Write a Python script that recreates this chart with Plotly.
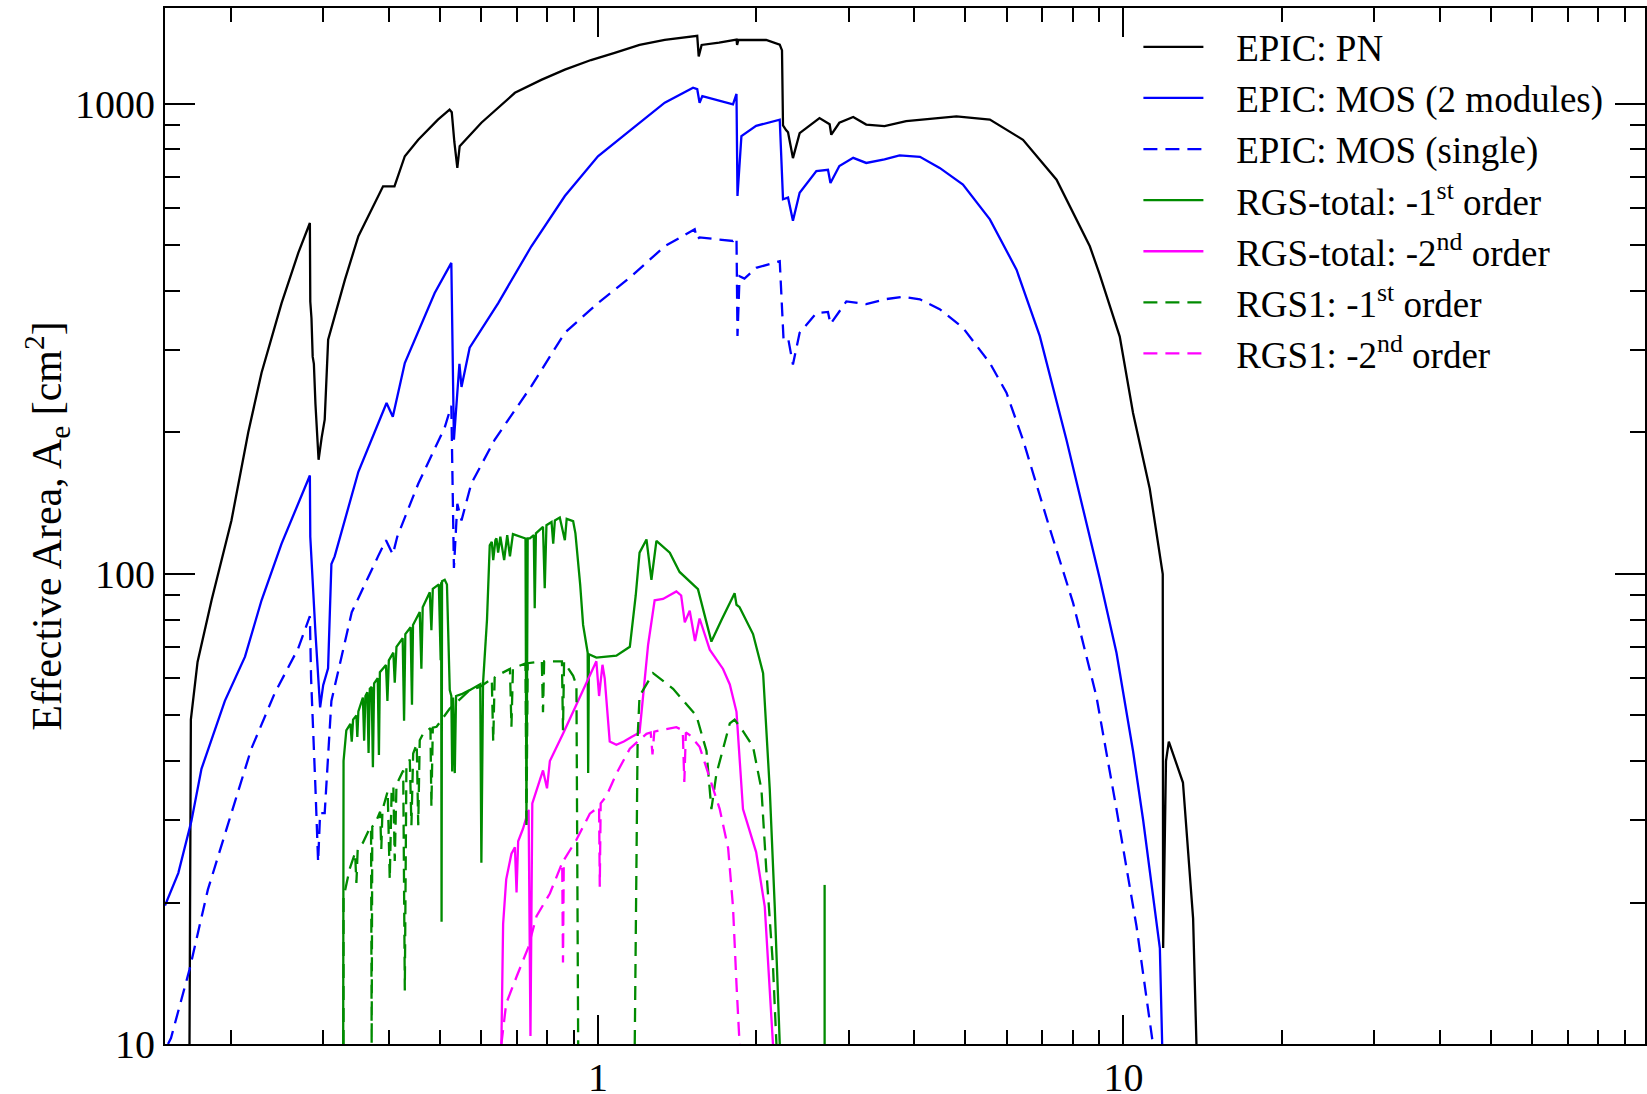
import numpy as np
import plotly.graph_objects as go

# ---- EPIC pn effective area (keV, cm^2)
pn_e = [0.167, 0.168, 0.173, 0.184, 0.2007, 0.216, 0.229, 0.25, 0.269, 0.283,
        0.2835, 0.285, 0.2865, 0.288, 0.29, 0.294, 0.298, 0.302, 0.3066, 0.33,
        0.35, 0.39, 0.41, 0.429, 0.455, 0.496, 0.522, 0.527, 0.533, 0.540,
        0.5456, 0.6, 0.695, 0.78, 0.865, 0.97, 1.076, 1.2, 1.34, 1.545,
        1.555, 1.575, 1.70, 1.835, 1.84, 1.85, 2.09, 2.218, 2.24, 2.25,
        2.28, 2.30, 2.35, 2.42, 2.64, 2.76, 2.78, 2.88, 3.06, 3.24,
        3.51, 3.86, 4.81, 5.57, 6.44, 7.46, 8.63, 9.01, 9.84, 10.43,
        11.22, 11.73, 11.88, 11.9, 12.05, 12.2, 12.98, 13.57, 13.77]
pn_a = [10, 49, 65, 88, 130, 200, 268, 377, 482, 558,
        380, 350, 290, 280, 230, 175, 195, 213, 315, 423,
        523, 668, 668, 774, 839, 926, 972, 960, 830, 731,
        813, 912, 1056, 1125, 1183, 1240, 1284, 1335, 1368, 1396,
        1262, 1335, 1350, 1371, 1335, 1368, 1368, 1337, 1300, 900,
        880, 870, 767, 867, 933, 905, 860, 912, 938, 904,
        897, 919, 941, 926, 839, 690, 498, 434, 320, 220,
        152, 111, 100, 16, 40, 44, 36, 18.5, 10]

# ---- EPIC MOS, both modules
mos2_e = [0.15, 0.159, 0.1684, 0.176, 0.195, 0.213, 0.229, 0.25, 0.283, 0.2835,
          0.29, 0.296, 0.300, 0.3065, 0.311, 0.3155, 0.35, 0.371, 0.396, 0.407,
          0.429, 0.489, 0.526, 0.532, 0.538, 0.545, 0.55, 0.57, 0.646, 0.747,
          0.865, 1.0, 1.158, 1.34, 1.517, 1.545, 1.561, 1.58, 1.807, 1.835,
          1.843, 1.875, 2.0, 2.218, 2.25, 2.3, 2.35, 2.42, 2.604, 2.74,
          2.77, 2.88, 3.06, 3.24, 3.51, 3.75, 4.10, 4.47, 4.95, 5.57,
          6.26, 6.93, 7.79, 8.63, 9.01, 9.7, 10.43, 10.9, 11.38, 11.73, 11.85]
mos2_a = [19.7, 23.1, 29.8, 38.5, 53.7, 66.7, 87.9, 116, 162, 120,
          75, 52, 58, 63, 105, 109, 165, 193, 231, 216,
          281, 396, 459, 193, 230, 280, 250, 303, 377, 498,
          637, 774, 883, 1006, 1083, 1075, 1006, 1039, 998, 1050,
          637, 854, 898, 926, 627, 632, 564, 647, 720, 724,
          679, 738, 768, 749, 762, 777, 772, 731, 674, 568,
          444, 321, 193, 120, 98, 68, 42, 30, 21, 16, 10]

# ---- EPIC MOS, single module
mos1_e = [0.152, 0.154, 0.167, 0.181, 0.2007, 0.219, 0.2427, 0.2688, 0.283, 0.2845,
          0.29, 0.2934, 0.296, 0.302, 0.311, 0.34, 0.3815, 0.395, 0.407, 0.415,
          0.455, 0.511, 0.526, 0.532, 0.54, 0.55, 0.574, 0.636, 0.747, 0.865,
          1.0, 1.158, 1.34, 1.528, 1.545, 1.56, 1.807, 1.835, 1.843, 1.86,
          1.9, 2.0, 2.218, 2.255, 2.3, 2.35, 2.42, 2.604, 2.74, 2.77,
          2.97, 3.24, 3.51, 3.81, 4.10, 4.47, 4.95, 5.57, 5.99, 6.44,
          7.24, 8.02, 8.88, 9.70, 10.59, 11.38]
mos1_a = [10, 10.3, 14.4, 21.3, 31, 42.5, 55.8, 69.4, 81.3, 60,
          35, 24.4, 31, 31, 53.7, 82.9, 109, 118, 110, 120,
          155.6, 205, 228, 103, 141, 130, 155.6, 193, 251, 326,
          377, 430, 498, 541, 515, 520, 511, 520, 321, 430,
          425, 448, 463, 316, 318, 279, 326, 359, 361, 340,
          380, 375, 384, 389, 384, 366, 334, 281, 243, 193,
          125, 86.8, 55, 31.6, 17.8, 10]

# ---- RGS (both units), first order
rgs_tot1_e = [0.3275, 0.328, 0.332, 0.338, 0.340, 0.342, 0.347, 0.3484, 0.350, 0.357,
              0.359, 0.361, 0.364, 0.366, 0.368, 0.371, 0.373, 0.375, 0.381, 0.383,
              0.3846, 0.395, 0.3975, 0.400, 0.408, 0.4105, 0.4136, 0.425, 0.4276, 0.430,
              0.440, 0.4427, 0.4447, 0.458, 0.4613, 0.464, 0.4786, 0.482, 0.485, 0.498,
              0.502, 0.503, 0.504, 0.505, 0.511, 0.516, 0.5224, 0.526, 0.528, 0.530,
              0.534, 0.537, 0.55, 0.57, 0.597, 0.600, 0.6044, 0.615, 0.6224, 0.628,
              0.632, 0.638, 0.641, 0.6457, 0.652, 0.663, 0.672, 0.68, 0.689, 0.728,
              0.731, 0.735, 0.742, 0.755, 0.758, 0.762, 0.786, 0.792, 0.798, 0.816,
              0.822, 0.828, 0.846, 0.865, 0.872, 0.897, 0.906, 0.925, 0.937, 0.951,
              0.956, 0.958, 0.961, 0.993, 1.084, 1.15, 1.18, 1.2, 1.237, 1.264,
              1.292, 1.37, 1.43, 1.55, 1.644, 1.72, 1.782, 1.82, 1.835, 1.86,
              1.973, 2.062, 2.123, 2.17, 2.218, None, 2.70, 2.70]
rgs_tot1_a = [10, 40, 46.5, 48, 44, 49, 50, 45, 51, 54.6,
              44.2, 55, 56, 41.6, 57, 57.5, 38.8, 58.5, 60, 41.2,
              61.8, 64, 53.7, 65.5, 68, 58.7, 70, 73, 48.7, 74.5,
              77, 52.7, 77.9, 83, 62.9, 85, 91.4, 75.9, 93, 95,
              65.5, 96, 18.2, 96.5, 97.2, 95, 56.6, 55, 38, 54.6,
              37.7, 55, 55.5, 56.6, 58.3, 24.3, 58.6, 80, 115, 117,
              107, 118, 119, 111, 120, 107, 121, 109, 121.6, 119,
              29.8, 119, 119, 121, 84.5, 122, 126, 93.3, 127, 129,
              116, 130, 131.8, 118, 131, 129.5, 122, 95, 77.9, 70,
              68, 37.7, 67.5, 66.4, 67, 70, 90, 111, 118.4, 97.2,
              117.6, 111, 101, 92.8, 71.8, 80, 86.8, 91, 86, 85,
              74.5, 61.5, 34.8, 19.6, 10, None, 10, 21.8]

# ---- RGS (both units), second order
rgs_tot2_e = [0.655, 0.66, 0.669, 0.6845, 0.695, 0.70, 0.705, 0.72, 0.738, 0.744,
              0.750, 0.786, 0.80, 0.81, 0.858, 0.923, 0.979, 0.993, 1.005, 1.02,
              1.03, 1.053, 1.084, 1.12, 1.158, 1.2, 1.246, 1.282, 1.33, 1.41,
              1.44, 1.463, 1.495, 1.53, 1.561, 1.632, 1.73, 1.782, 1.835, 1.888,
              1.917, 2.0, 2.077, 2.123, 2.153]
rgs_tot2_a = [10, 18, 22.4, 25.4, 26.2, 21, 27, 28.7, 31.5, 10.4,
              32.5, 38.2, 35, 40, 45.7, 54.6, 63, 65.2, 55, 64.1,
              60, 44, 43.3, 44, 45, 46, 70.8, 87.9, 88.5, 91.8,
              90, 78.9, 83.5, 72, 80.4, 69, 62.8, 58.2, 50.9, 31.6,
              29.9, 25.6, 19.6, 13.4, 10]

# ---- RGS1 only, first order
rgs1_1_e = [0.328, 0.328, 0.337, 0.345, 0.347, 0.349, 0.357, 0.3674, 0.370, 0.371,
            0.372, 0.377, 0.385, 0.387, 0.389, 0.398, 0.4016, 0.405, 0.408, 0.4105,
            0.4136, 0.426, 0.429, 0.432, 0.4385, 0.4416, 0.445, 0.452, 0.455, 0.458,
            0.4648, 0.480, 0.482, 0.485, 0.493, 0.5224, 0.57, 0.596, 0.628, 0.632,
            0.636, 0.641, 0.680, 0.6845, 0.689, 0.728, 0.731, 0.735, 0.782, 0.786,
            0.790, 0.798, 0.854, 0.858, 0.862, 0.897, 0.91, 0.917, None, 1.175,
            1.19, 1.2, 1.273, 1.39, 1.54, 1.609, 1.644, 1.68, 1.782, 1.82,
            1.888, 1.973, 2.047, 2.09, 2.153, 2.186]
rgs1_1_a = [10, 20.5, 23.6, 25.5, 22, 26, 26.8, 28.7, 28.9, 10,
            29, 29.5, 31.2, 26, 31.5, 34.5, 22.4, 35, 35.3, 24.5,
            35.6, 38.2, 13, 39, 40.3, 29.2, 41.5, 43.5, 29.2, 44.3,
            45.7, 47, 32, 47.1, 47.3, 51.7, 56.6, 57.5, 59.8, 44,
            60.2, 60.7, 62.8, 47.3, 63, 64.5, 28.7, 64.6, 65.1, 50.8,
            65.2, 65.2, 65.2, 46.5, 65, 60.7, 58, 10, None, 10,
            45, 55, 61.5, 57, 49.9, 42, 31.6, 37.5, 48.1, 49,
            46.3, 42.9, 34.8, 23.7, 14.7, 10]

# ---- RGS1 only, second order
rgs1_2_e = [0.655, 0.669, 0.70, 0.736, 0.764, 0.81, 0.855, 0.858, 0.861, 0.865,
            0.91, 0.965, 1.005, 1.008, 1.012, 1.038, 1.084, 1.15, 1.237, 1.26,
            1.27, 1.28, 1.31, 1.41, 1.45, 1.46, 1.47, 1.495, 1.561, 1.632,
            1.705, 1.769, 1.807, 1.835, 1.86]
rgs1_2_a = [10, 12.2, 13.9, 16, 18.7, 20.9, 24.3, 14.9, 24.6, 24.8,
            27.2, 30.9, 32, 21.6, 32.5, 33.7, 37.6, 42.5, 45.7, 46,
            41.3, 46.2, 46.5, 47.2, 46.5, 36.1, 46, 45.4, 42.9, 36.8,
            31.6, 26.1, 19.6, 13.4, 10]

# ---- axis ticks
x_major = [1, 10]
x_major_text = ["1", "10"]
x_minor = [0.2, 0.3, 0.4, 0.5, 0.6, 0.7, 0.8, 0.9,
           2, 3, 4, 5, 6, 7, 8, 9,
           20, 30, 40, 50, 60, 70, 80, 90]
y_major = [10, 100, 1000]
y_major_text = ["10", "100", "1000"]
y_minor = [20, 30, 40, 50, 60, 70, 80, 90,
           200, 300, 400, 500, 600, 700, 800, 900]

BLACK = "#000000"
BLUE = "#0000ff"
GREEN = "#008b00"
MAGENTA = "#ff00ff"
DASH = "14px,8px"
GAP = "\u00a0" * 3  # space between legend sample and label

series = [
    ("EPIC: PN", pn_e, pn_a, BLACK, "solid", 1),
    ("EPIC: MOS (2 modules)", mos2_e, mos2_a, BLUE, "solid", 2),
    ("EPIC: MOS (single)", mos1_e, mos1_a, BLUE, DASH, 3),
    ("RGS-total: -1<sup>st</sup> order", rgs_tot1_e, rgs_tot1_a, GREEN, "solid", 4),
    ("RGS-total: -2<sup>nd</sup> order", rgs_tot2_e, rgs_tot2_a, MAGENTA, "solid", 5),
    ("RGS1: -1<sup>st</sup> order", rgs1_1_e, rgs1_1_a, GREEN, DASH, 6),
    ("RGS1: -2<sup>nd</sup> order", rgs1_2_e, rgs1_2_a, MAGENTA, DASH, 7),
]

fig = go.Figure()
for name, xs, ys, color, dash, rank in series:
    fig.add_trace(go.Scatter(
        x=xs, y=ys, mode="lines", name=GAP + name, legendrank=rank,
        connectgaps=False,
        line=dict(color=color, width=2.3, dash=dash),
    ))

FONT = "Liberation Serif, Times New Roman, serif"

axis_common = dict(
    showgrid=False, zeroline=False, automargin=False,
    showline=True, linecolor="black", linewidth=2,
    mirror="allticks", ticks="inside", tickcolor="black", tickwidth=2,
)

fig.update_xaxes(
    type="log", range=[np.log10(0.15), np.log10(98.3)],
    tickmode="array", tickvals=x_major, ticktext=x_major_text, ticklen=29,
    minor=dict(tickmode="array", tickvals=x_minor, ticks="inside", ticklen=14,
               tickcolor="black", tickwidth=2, showgrid=False),
    tickfont=dict(family=FONT, size=40, color="black"),
    ticklabelstandoff=-3,
    **axis_common,
)
fig.update_yaxes(
    type="log", range=[1, np.log10(1600)],
    tickmode="array", tickvals=y_major, ticktext=y_major_text, ticklen=30,
    minor=dict(tickmode="array", tickvals=y_minor, ticks="inside", ticklen=15,
               tickcolor="black", tickwidth=2, showgrid=False),
    tickfont=dict(family=FONT, size=40, color="black"),
    title=dict(text="Effective Area, A<sub>e</sub> [cm<sup>2</sup>]",
               font=dict(family=FONT, size=42, color="black"), standoff=0),
    **axis_common,
)

fig.update_layout(
    width=1647, height=1094,
    margin=dict(l=165, r=2, t=8, b=49.5, pad=0),
    paper_bgcolor="white", plot_bgcolor="white",
    showlegend=True,
    legend=dict(
        x=0.6577, y=0.992, xanchor="left", yanchor="top",
        bgcolor="rgba(0,0,0,0)", borderwidth=0,
        font=dict(family=FONT, size=37, color="black"),
        itemwidth=60, tracegroupgap=0,
    ),
)

fig.write_html("out.html")
